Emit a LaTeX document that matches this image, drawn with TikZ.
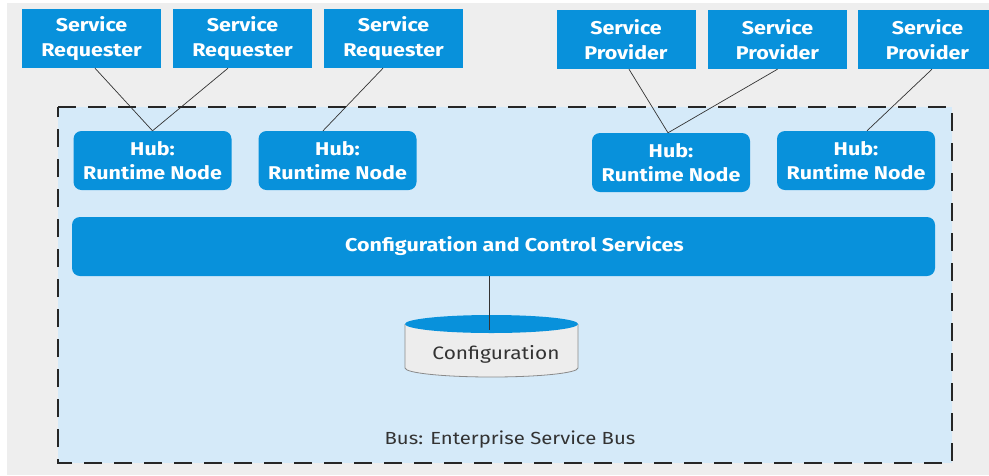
\documentclass[tikz,border=0pt]{standalone}
\usepackage{fontspec}
\setmainfont[FakeStretch=1.16]{Fira Sans}
\usetikzlibrary{calc}

\definecolor{pagegrey}{HTML}{EEEEEE}
\definecolor{busblue}{HTML}{D5EAF9}
\definecolor{boxblue}{HTML}{0891DB}
\definecolor{dashdark}{HTML}{262626}
\definecolor{labelgrey}{HTML}{333333}
\definecolor{cylgrey}{HTML}{EDEDED}
\definecolor{cyledge}{HTML}{8A8A8A}

\tikzset{
  party/.style={fill=boxblue, text=white, font=\bfseries\fontsize{18.5}{25}\selectfont,
    align=center, inner sep=0pt, minimum width=139pt, minimum height=59pt},
  hub/.style={party, rounded corners=8pt, minimum width=158pt,
    font=\bfseries\fontsize{18.5}{24}\selectfont},
  link/.style={draw=black!80, line width=0.7pt},
}

\begin{document}
\begin{tikzpicture}[x=1pt, y=-1pt]
  \useasboundingbox (0,0) rectangle (989,475);
  \clip (0,0) rectangle (989,475);
  \fill[white] (0,0) rectangle (989,475);
  \fill[pagegrey] (7,3) rectangle (989,475);

  % enterprise service bus area
  \fill[busblue] (58,107) rectangle (952,463);
  \draw[dashdark, line width=2.6pt, dash pattern=on 18pt off 12pt]
    (58,107) -- (952,107) -- (952,463) -- (58,463) -- cycle;
  \node[text=labelgrey, font=\fontsize{17.5}{20}\selectfont] (busname) at (510,440)
    {Bus: Enterprise Service Bus};

  % service requesters and providers
  \node[party] (r1) at (91.5,38.5) {Service\\Requester};
  \node[party] (r2) at (242.5,38.5) {Service\\Requester};
  \node[party] (r3) at (393.5,38.5) {Service\\Requester};
  \node[party] (p1) at (626,39.5) {Service\\Provider};
  \node[party] (p2) at (777.5,39.5) {Service\\Provider};
  \node[party] (p3) at (927.5,39.5) {Service\\Provider};

  % runtime hubs
  \node[hub] (h1) at (152.5,160.5) {Hub:\\Runtime Node};
  \node[hub] (h2) at (337.5,160.5) {Hub:\\Runtime Node};
  \node[hub] (h3) at (671,162.5) {Hub:\\Runtime Node};
  \node[hub] (h4) at (856,160.5) {Hub:\\Runtime Node};

  % configuration and control bar
  \node[hub, minimum width=863pt] (ccs) at (503.5,246.5)
    {\hspace*{22pt}Configuration and Control Services};

  % configuration store
  \fill[cylgrey] (405,324) -- (405,368) arc[start angle=180, end angle=360, x radius=86.5pt, y radius=9pt]
    -- (578,324) -- cycle;
  \draw[cyledge, line width=0.8pt] (405,324) -- (405,368)
    arc[start angle=180, end angle=360, x radius=86.5pt, y radius=9pt] -- (578,324);
  \fill[boxblue] (491.5,324) ellipse[x radius=86.5pt, y radius=9pt];
  \node[text=labelgrey, font=\fontsize{18}{20}\selectfont] (store) at (496,354) {Configuration};
  \coordinate (storetop) at (489,330);

  % connectors
  \draw[link] ([xshift=3.5pt]r1.south) -- (h1.north);
  \draw[link] ([xshift=-14.5pt]r2.south) -- (h1.north);
  \draw[link] ([xshift=-10.5pt]r3.south) -- ([xshift=-14.5pt]h2.north);
  \draw[link] ([xshift=3pt]p1.south) -- ([xshift=-3pt]h3.north);
  \draw[link] (p2.south) -- ([xshift=-3pt]h3.north);
  \draw[link] ([xshift=4.5pt]p3.south) -- ([xshift=11pt]h4.north);
  \draw[link] (ccs.south -| storetop) -- (storetop);
\end{tikzpicture}
\end{document}
